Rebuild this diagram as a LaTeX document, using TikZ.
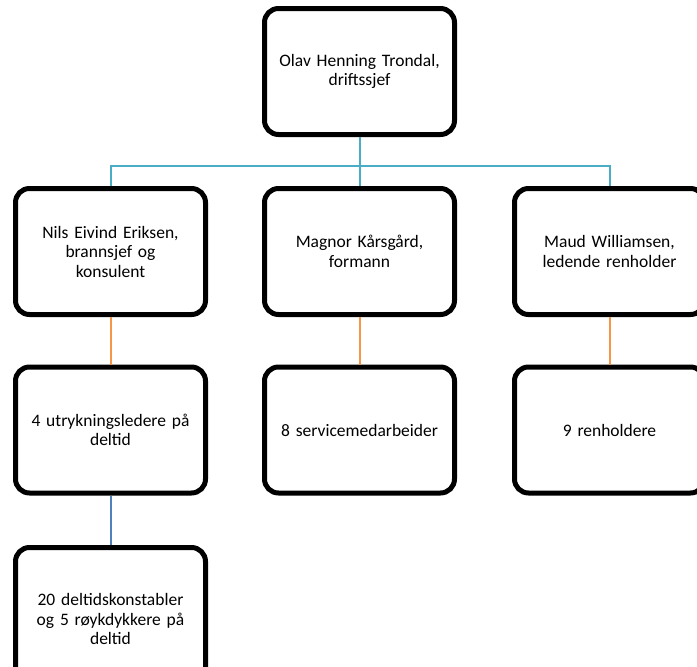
\documentclass[tikz,border=0pt]{standalone}
\usepackage{fontspec}
\setmainfont{Carlito}
\definecolor{aqua}{HTML}{4BACC6}
\definecolor{orng}{HTML}{F79646}
\definecolor{blu}{HTML}{4F81BD}
\begin{document}
\begin{tikzpicture}[x=1pt,y=-1pt,
  orgbox/.style={draw=black, line width=5pt, rounded corners=14pt, fill=white,
    minimum width=190pt, minimum height=126pt, text width=182pt, align=center,
    inner sep=0pt, font=\fontsize{17.5}{19.5}\selectfont},
  aqualine/.style={draw=aqua, line width=2pt},
  orangeline/.style={draw=orng, line width=2pt},
  blueline/.style={draw=blu, line width=2pt}]
\useasboundingbox (0,0) rectangle (697,667);
\clip (0,0) rectangle (697,667);
\node[orgbox] (top) at (359.5,71.5) {Olav Henning Trondal,\\driftssjef};
\node[orgbox] (nils) at (110.5,251.5) {Nils Eivind Eriksen,\\brannsjef og\\konsulent};
\node[orgbox] (magnor) at (359.5,251.5) {Magnor Kårsgård,\\formann};
\node[orgbox] (maud) at (609.5,251.5) {Maud Williamsen,\\ledende renholder};
\node[orgbox] (utr) at (110.5,430) {4 utrykningsledere på\\deltid};
\node[orgbox] (serv) at (359.5,430) {8 servicemedarbeider};
\node[orgbox] (renh) at (609.5,430) {9 renholdere};
\node[orgbox, minimum height=143pt] (delt) at (110.5,619) {20 deltidskonstabler\\og 5 røykdykkere på\\deltid};
\coordinate (hub) at (359.5,165.5);
\draw[aqualine] (top.south) -- (hub);
\draw[aqualine] (nils.north) |- (hub);
\draw[aqualine] (maud.north) |- (hub);
\draw[aqualine] (magnor.north) -- (hub);
\draw[orangeline] (nils.south) -- (utr.north);
\draw[orangeline] (magnor.south) -- (serv.north);
\draw[orangeline] (maud.south) -- (renh.north);
\draw[blueline] (utr.south) -- (delt.north);
\end{tikzpicture}
\end{document}
